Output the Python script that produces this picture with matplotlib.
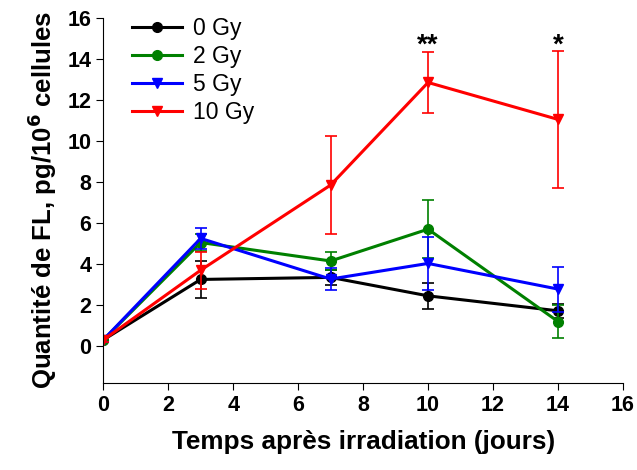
import matplotlib
matplotlib.use("Agg")
import matplotlib.pyplot as plt

plt.rcParams['font.family'] = ['Liberation Sans', 'DejaVu Sans']

jours = [0, 3, 7, 10, 14]
doses = ['0 Gy', '2 Gy', '5 Gy', '10 Gy']
couleurs = ['black', 'green', 'blue', 'red']
marqueurs = ['o', 'o', 'v', 'v']

fl_0gy = [0.3, 3.25, 3.35, 2.45, 1.72]
fl_2gy = [0.3, 5.05, 4.15, 5.7, 1.2]
fl_5gy = [0.3, 5.25, 3.27, 4.03, 2.78]
fl_10gy = [0.3, 3.7, 7.85, 12.85, 11.05]

err_0gy = [0.1, 0.9, 0.35, 0.63, 0.35]
err_2gy = [0.1, 0.4, 0.45, 1.4, 0.8]
err_5gy = [0.1, 0.5, 0.55, 1.3, 1.1]
err_10gy = [0.1, 0.9, 2.4, 1.5, 3.35]

series = [fl_0gy, fl_2gy, fl_5gy, fl_10gy]
erreurs = [err_0gy, err_2gy, err_5gy, err_10gy]

fig, ax = plt.subplots(figsize=(6.37, 4.70), dpi=100)
fig.subplots_adjust(left=0.162, right=0.978, bottom=0.185, top=0.962)

for vals, errs, lab, c, m in zip(series, erreurs, doses, couleurs, marqueurs):
    ax.errorbar(jours, vals, yerr=errs, fmt='none', ecolor=c,
                elinewidth=1.2, capsize=4, capthick=1.2)
    ax.plot(jours, vals, color=c, marker=m, markersize=7, linewidth=2.2, label=lab)

# significance marks
ax.text(10, 14.0, '**', ha='center', va='bottom', fontsize=20, fontweight='bold')
ax.text(14, 14.0, '*', ha='center', va='bottom', fontsize=20, fontweight='bold')

ax.set_xlim(0, 16)
ax.set_ylim(-1.8, 16)
ax.set_xticks(range(0, 17, 2))
ax.set_yticks(range(0, 17, 2))
ax.spines['top'].set_visible(False)
ax.spines['right'].set_visible(False)
ax.spines['left'].set_bounds(-1.8, 16)
ax.tick_params(labelsize=15.5, length=5, direction='out')
for t in ax.get_xticklabels() + ax.get_yticklabels():
    t.set_fontweight('bold')

ax.set_xlabel('Temps après irradiation (jours)', fontsize=18.8, fontweight='bold', labelpad=10)
ax.set_ylabel('Quantité de FL, pg/10$^\\mathbf{6}$ cellules', fontsize=18.5, fontweight='bold', labelpad=6)

ax.legend(loc='upper left', bbox_to_anchor=(0.015, 1.06), frameon=False, fontsize=16.5,
          handlelength=2.2, labelspacing=0.22, handletextpad=0.5)

plt.savefig('out.png', dpi=100)
